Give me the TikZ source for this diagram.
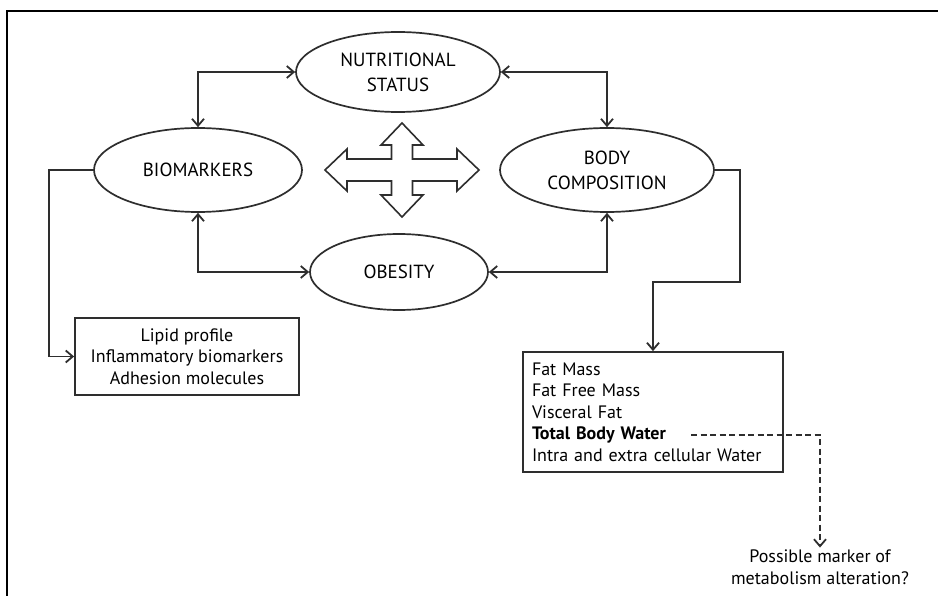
\documentclass[tikz,border=0pt]{standalone}
\usepackage{fontspec}
\setmainfont{PT Sans}
\usetikzlibrary{shapes.geometric,arrows.meta}
\definecolor{ln}{HTML}{2E2E2E}
\begin{document}
\begin{tikzpicture}[x=1pt,y=-1pt,
  oval/.style={ellipse,draw=ln,line width=1.7pt,inner sep=0pt,align=center,
    font=\fontsize{19}{25}\selectfont},
  conn/.style={draw=ln,line width=1.8pt,-{Straight Barb[length=7pt,width=12pt,line width=1.8pt]}},
  biconn/.style={draw=ln,line width=1.8pt,{Straight Barb[length=7pt,width=12pt,line width=1.8pt]}-{Straight Barb[length=7pt,width=12pt,line width=1.8pt]}},
  boxnode/.style={draw=ln,line width=1.8pt,inner sep=0pt,font=\fontsize{18}{21.5}\selectfont}]
\useasboundingbox (0,0) rectangle (938,596);
\fill[white] (0,0) rectangle (938,596);
% frame
\draw[line width=2pt,black] (7,596) -- (7,11) -- (938,11);

% ellipses
\node[oval,minimum width=204pt,minimum height=80pt] (ns) at (398,72) {NUTRITIONAL\\STATUS};
\node[oval,minimum width=208pt,minimum height=84pt] (bio) at (198,170) {BIOMARKERS};
\node[oval,minimum width=214pt,minimum height=84pt] (bc) at (607,170) {BODY\\COMPOSITION};
\node[oval,minimum width=178pt,minimum height=76pt] (ob) at (399,272) {OBESITY};

% cross arrow
\draw[draw=ln,line width=1.6pt,line join=miter,shift={(402,170)}]
  (77,0) -- (55,-21) -- (55,-11) -- (10.5,-11) -- (10.5,-25) -- (21,-25) -- (0,-47)
  -- (-21,-25) -- (-10.5,-25) -- (-10.5,-11) -- (-55,-11) -- (-55,-21) -- (-77,0)
  -- (-55,21) -- (-55,11) -- (-10.5,11) -- (-10.5,25) -- (-21,25) -- (0,47)
  -- (21,25) -- (10.5,25) -- (10.5,11) -- (55,11) -- (55,21) -- cycle;

% boxes
\node[boxnode,minimum width=224pt,minimum height=77pt,align=center] (lip) at (187,356.5)
  {Lipid profile\\Inflammatory biomarkers\\Adhesion molecules};
\node[boxnode,minimum width=260pt,minimum height=120pt,align=left,text width=242pt] (fm) at (653,412)
  {Fat Mass\\Fat Free Mass\\Visceral Fat\\\textbf{Total Body Water}\\Intra and extra cellular Water};
\node[font=\fontsize{18}{21.5}\selectfont,align=center,inner sep=2pt] (pm) at (820,567)
  {Possible marker of\\metabolism alteration?};

% connectors
\draw[biconn] (bio.north) |- (ns.west);
\draw[biconn] (ns.east) -| (bc.north);
\draw[biconn] (bio.south) |- (ob.west);
\draw[biconn] (bc.south) |- (ob.east);

\coordinate (b1) at (49,170);
\draw[conn] (bio.west) -- (b1) |- (lip.west);

\coordinate (c1) at (740,282);
\draw[conn] (bc.east) -| (c1) -| (fm.north);

\coordinate (tbw) at (691,435);
\draw[conn,dash pattern=on 6pt off 3.5pt] (tbw) -| (pm.north);
\end{tikzpicture}
\end{document}
